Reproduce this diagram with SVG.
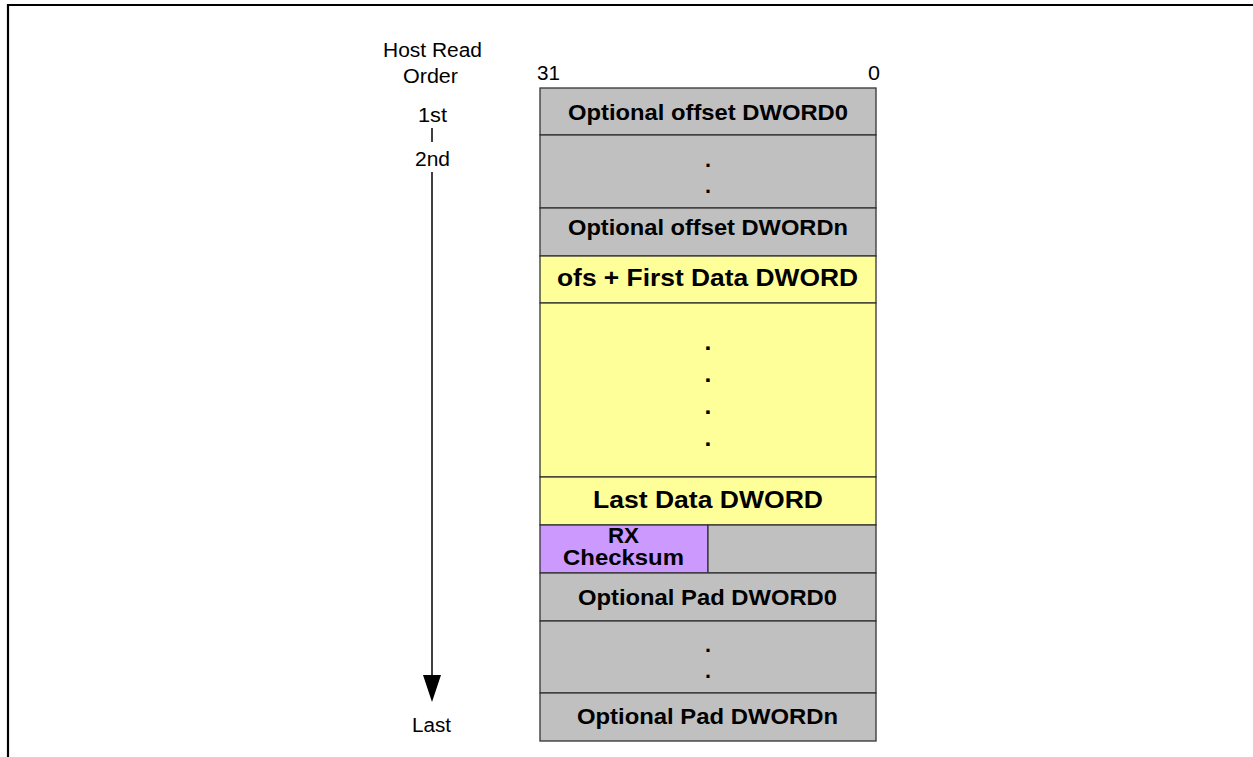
<svg xmlns="http://www.w3.org/2000/svg" width="1253" height="757" viewBox="0 0 1253 757">
<style>
.r{font-family:"Liberation Sans",Arial,sans-serif;font-size:19.5px;fill:#000;text-anchor:middle}
.b{font-family:"Liberation Sans",Arial,sans-serif;font-weight:bold;font-size:21.5px;fill:#000;text-anchor:middle}
.y{font-size:24.5px}
.g{fill:#C0C0C0;stroke:#333;stroke-width:1.3}
.yl{fill:#FFFF99;stroke:#333;stroke-width:1.3}
.p{fill:#CC99FF;stroke:#333;stroke-width:1.3}
</style>
<rect width="1253" height="757" fill="#fff"/>
<path d="M8,757 L8,5 L1253,5" fill="none" stroke="#000" stroke-width="2.2"/>

<g id="labels">
<text class="r" x="432.5" y="57" textLength="99" lengthAdjust="spacingAndGlyphs">Host Read</text>
<text class="r" x="430.5" y="83" textLength="55" lengthAdjust="spacingAndGlyphs">Order</text>
<text class="r" x="432.5" y="122" textLength="29" lengthAdjust="spacingAndGlyphs">1st</text>
<text class="r" x="432.5" y="166" textLength="35" lengthAdjust="spacingAndGlyphs">2nd</text>
<text class="r" x="431.5" y="732" textLength="39" lengthAdjust="spacingAndGlyphs">Last</text>
<text class="r" x="548.5" y="80" textLength="23" lengthAdjust="spacingAndGlyphs">31</text>
<text class="r" x="874" y="80" textLength="12" lengthAdjust="spacingAndGlyphs">0</text>
</g>

<g id="connectors">
<line x1="432" y1="128" x2="432" y2="142" stroke="#000" stroke-width="1.5"/>
<line x1="432" y1="172" x2="432" y2="677" stroke="#000" stroke-width="1.5"/>
<polygon points="423,675 441,675 432,702" fill="#000"/>
</g>

<g id="row-offset0">
<rect class="g" x="540" y="88" width="336" height="47"/>
<text class="b" x="708" y="120" textLength="280" lengthAdjust="spacingAndGlyphs">Optional offset DWORD0</text>
</g>
<g id="row-offset-dots">
<rect class="g" x="540" y="135" width="336" height="73"/>
<text class="b" x="708" y="167">.</text>
<text class="b" x="708" y="193">.</text>
</g>
<g id="row-offsetn">
<rect class="g" x="540" y="208" width="336" height="48"/>
<text class="b" x="708" y="235" textLength="280" lengthAdjust="spacingAndGlyphs">Optional offset DWORDn</text>
</g>
<g id="row-first-data">
<rect class="yl" x="540" y="256" width="336" height="47"/>
<text class="b y" x="707.5" y="286" textLength="301" lengthAdjust="spacingAndGlyphs">ofs + First Data DWORD</text>
</g>
<g id="row-data-dots">
<rect class="yl" x="540" y="303" width="336" height="174"/>
<text class="b y" x="708" y="350">.</text>
<text class="b y" x="708" y="382">.</text>
<text class="b y" x="708" y="414">.</text>
<text class="b y" x="708" y="446">.</text>
</g>
<g id="row-last-data">
<rect class="yl" x="540" y="477" width="336" height="48"/>
<text class="b y" x="708" y="508" textLength="230" lengthAdjust="spacingAndGlyphs">Last Data DWORD</text>
</g>
<g id="row-checksum">
<rect class="p" x="540" y="525" width="168" height="48"/>
<rect class="g" x="708" y="525" width="168" height="48"/>
<text class="b" x="623.5" y="543" textLength="31" lengthAdjust="spacingAndGlyphs">RX</text>
<text class="b" x="623.5" y="565" textLength="121" lengthAdjust="spacingAndGlyphs">Checksum</text>
</g>
<g id="row-pad0">
<rect class="g" x="540" y="573" width="336" height="48"/>
<text class="b" x="707.5" y="605" textLength="259" lengthAdjust="spacingAndGlyphs">Optional Pad DWORD0</text>
</g>
<g id="row-pad-dots">
<rect class="g" x="540" y="621" width="336" height="72"/>
<text class="b" x="708" y="652">.</text>
<text class="b" x="708" y="678">.</text>
</g>
<g id="row-padn">
<rect class="g" x="540" y="693" width="336" height="48"/>
<text class="b" x="707.5" y="724" textLength="261" lengthAdjust="spacingAndGlyphs">Optional Pad DWORDn</text>
</g>
</svg>
